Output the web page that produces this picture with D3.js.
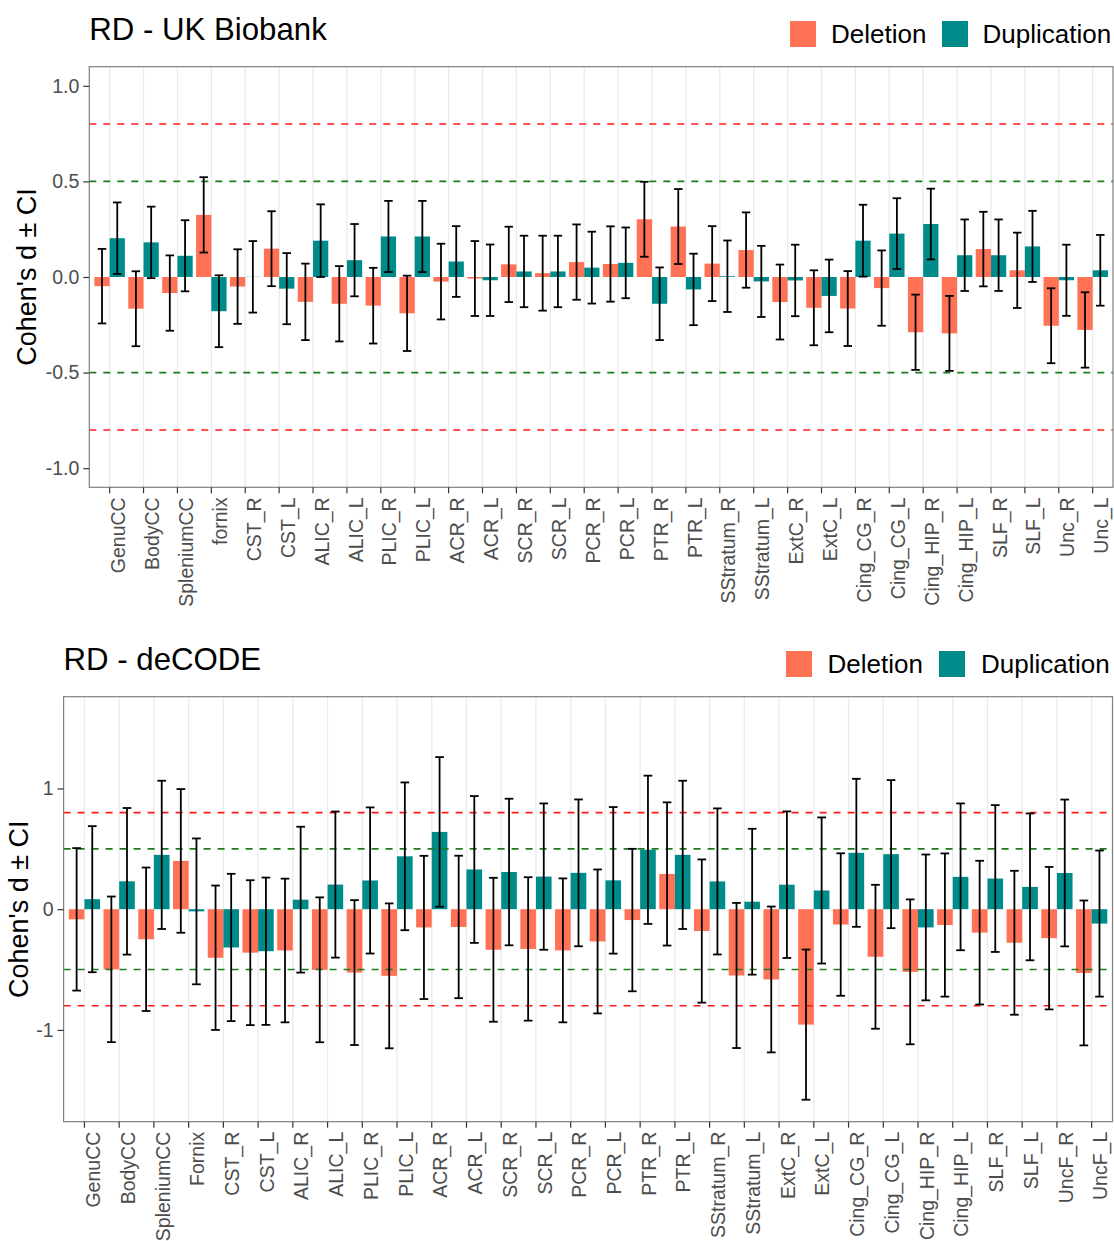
<!DOCTYPE html>
<html>
<head>
<meta charset="utf-8">
<script src="https://cdn.jsdelivr.net/npm/d3@7"></script>
<style>
  body { margin: 0; background: #fff; }
  svg text { font-family: "Liberation Sans", Arial, Helvetica, sans-serif; }
</style>
</head>
<body>
<div class="container"></div>
<script>
const WIDTH = 1114;
const HEIGHT = 1241;

const DEL_COLOR = '#FF7256';
const DUP_COLOR = '#008B8B';

// UK Biobank
var tractsUKB = ['GenuCC', 'BodyCC', 'SpleniumCC', 'fornix', 'CST_R', 'CST_L', 'ALIC_R', 'ALIC_L',
    'PLIC_R', 'PLIC_L', 'ACR_R', 'ACR_L', 'SCR_R', 'SCR_L', 'PCR_R', 'PCR_L', 'PTR_R', 'PTR_L',
    'SStratum_R', 'SStratum_L', 'ExtC_R', 'ExtC_L', 'Cing_CG_R', 'Cing_CG_L', 'Cing_HIP_R',
    'Cing_HIP_L', 'SLF_R', 'SLF_L', 'Unc_R', 'Unc_L'];
var ukbDel = [-0.048, -0.166, -0.084, 0.325, -0.050, 0.148, -0.130, -0.140, -0.150, -0.190,
    -0.024, -0.008, 0.066, 0.020, 0.078, 0.068, 0.302, 0.264, 0.070, 0.141,
    -0.131, -0.161, -0.165, -0.058, -0.289, -0.295, 0.146, 0.035, -0.255, -0.277];
var ukbDelCI = [0.195, 0.196, 0.197, 0.197, 0.195, 0.196, 0.200, 0.197, 0.198, 0.197,
    0.198, 0.196, 0.197, 0.196, 0.197, 0.197, 0.196, 0.196, 0.196, 0.197,
    0.196, 0.196, 0.196, 0.197, 0.197, 0.196, 0.195, 0.197, 0.196, 0.197];
var ukbDup = [0.203, 0.181, 0.111, -0.179, 0.001, -0.061, 0.190, 0.088, 0.212, 0.212,
    0.081, -0.017, 0.029, 0.029, 0.049, 0.074, -0.140, -0.065, 0.004, -0.023,
    -0.018, -0.099, 0.190, 0.227, 0.277, 0.114, 0.114, 0.160, -0.017, 0.035];
var ukbDupCI = [0.187, 0.187, 0.186, 0.188, 0.187, 0.186, 0.190, 0.189, 0.186, 0.186,
    0.185, 0.187, 0.187, 0.187, 0.188, 0.185, 0.190, 0.187, 0.187, 0.186,
    0.187, 0.190, 0.188, 0.185, 0.185, 0.187, 0.187, 0.186, 0.186, 0.185];

// deCODE
var tractsDC = ['GenuCC', 'BodyCC', 'SpleniumCC', 'Fornix', 'CST_R', 'CST_L', 'ALIC_R', 'ALIC_L',
    'PLIC_R', 'PLIC_L', 'ACR_R', 'ACR_L', 'SCR_R', 'SCR_L', 'PCR_R', 'PCR_L', 'PTR_R', 'PTR_L',
    'SStratum_R', 'SStratum_L', 'ExtC_R', 'ExtC_L', 'Cing_CG_R', 'Cing_CG_L', 'Cing_HIP_R',
    'Cing_HIP_L', 'SLF_R', 'SLF_L', 'UncF_R', 'UncF_L'];
var dcDel = [-0.084, -0.498, -0.249, 0.400, -0.402, -0.360, -0.342, -0.502, -0.525, -0.552,
    -0.151, -0.147, -0.336, -0.329, -0.341, -0.267, -0.090, 0.292, -0.181, -0.549,
    -0.582, -0.956, -0.127, -0.394, -0.519, -0.131, -0.194, -0.278, -0.240, -0.528];
var dcDelCI = [0.590, 0.603, 0.594, 0.595, 0.598, 0.600, 0.595, 0.600, 0.600, 0.600,
    0.593, 0.590, 0.596, 0.594, 0.596, 0.596, 0.590, 0.593, 0.593, 0.601,
    0.604, 0.622, 0.590, 0.596, 0.600, 0.593, 0.595, 0.596, 0.590, 0.600];
var dcDup = [0.083, 0.231, 0.450, -0.018, -0.317, -0.348, 0.079, 0.204, 0.238, 0.438,
    0.640, 0.329, 0.308, 0.270, 0.301, 0.239, 0.492, 0.450, 0.230, 0.062,
    0.203, 0.155, 0.467, 0.456, -0.151, 0.268, 0.254, 0.185, 0.300, -0.119];
var dcDupCI = [0.605, 0.607, 0.614, 0.604, 0.610, 0.610, 0.604, 0.605, 0.605, 0.612,
    0.620, 0.608, 0.607, 0.606, 0.608, 0.607, 0.614, 0.614, 0.605, 0.604,
    0.607, 0.605, 0.613, 0.613, 0.604, 0.608, 0.608, 0.608, 0.608, 0.605];

var groups = ['Deletion', 'Duplication'];
var refLines = [
    { v: 0.8, c: '#FF1A1A' }, { v: -0.8, c: '#FF1A1A' },
    { v: 0.5, c: '#1E7B1E' }, { v: -0.5, c: '#1E7B1E' }
];

var translate = function(x, y) {
    return `translate(${x},${y})`;
};

var buildRows = function(tracts, del, delCI, dup, dupCI) {
    var rows = [];
    tracts.forEach((t, i) => {
        rows.push({ tract: t, group: 'Deletion', d: del[i], ci: delCI[i] });
        rows.push({ tract: t, group: 'Duplication', d: dup[i], ci: dupCI[i] });
    });
    return rows;
};

var drawPanel = function(svg, p) {
    var w = p.right - p.left;
    var h = p.bottom - p.top;

    var x = d3.scaleBand()
        .domain(p.tracts)
        .range([0, w])
        .paddingInner(0.1)
        .paddingOuter(0.15);
    var xg = d3.scaleBand()
        .domain(groups)
        .range([0, x.bandwidth()]);
    var y = d3.scaleLinear()
        .domain(p.domain)
        .range([h, 0]);
    var color = d3.scaleOrdinal().domain(groups).range([DEL_COLOR, DUP_COLOR]);

    var g = svg.append('g').attr('transform', translate(p.left, p.top));

    // vertical grid
    g.selectAll('.grid')
        .data(p.tracts)
        .join('line')
        .attr('x1', d => x(d) + x.bandwidth() / 2)
        .attr('x2', d => x(d) + x.bandwidth() / 2)
        .attr('y1', 0)
        .attr('y2', h)
        .attr('stroke', '#EBEBEB')
        .attr('stroke-width', 1.3);

    var rows = p.rows;

    g.selectAll('.bar')
        .data(rows)
        .join('rect')
        .attr('x', d => x(d.tract) + xg(d.group))
        .attr('width', xg.bandwidth())
        .attr('y', d => y(Math.max(0, d.d)))
        .attr('height', d => Math.abs(y(d.d) - y(0)))
        .attr('fill', d => color(d.group));

    g.selectAll('.ref')
        .data(refLines)
        .join('line')
        .attr('x1', 0)
        .attr('x2', w)
        .attr('y1', d => y(d.v))
        .attr('y2', d => y(d.v))
        .attr('stroke', d => d.c)
        .attr('stroke-width', 1.6)
        .attr('stroke-dasharray', '7,7');

    var cap = x.step() * 0.125;
    var eb = g.selectAll('.eb')
        .data(rows)
        .join('g')
        .attr('transform', d => translate(x(d.tract) + xg(d.group) + xg.bandwidth() / 2, 0))
        .attr('stroke', '#000')
        .attr('stroke-width', 1.8);
    eb.append('line')
        .attr('y1', d => y(d.d + d.ci))
        .attr('y2', d => y(d.d - d.ci));
    eb.append('line')
        .attr('x1', -cap).attr('x2', cap)
        .attr('y1', d => y(d.d + d.ci))
        .attr('y2', d => y(d.d + d.ci));
    eb.append('line')
        .attr('x1', -cap).attr('x2', cap)
        .attr('y1', d => y(d.d - d.ci))
        .attr('y2', d => y(d.d - d.ci));

    // panel border
    g.append('rect')
        .attr('width', w)
        .attr('height', h)
        .attr('fill', 'none')
        .attr('stroke', '#7F7F7F')
        .attr('stroke-width', 1.2);

    var yAxis = d3.axisLeft(y).tickValues(p.ticks).tickFormat(p.fmt).tickSize(6).tickPadding(4);
    var ya = g.append('g').call(yAxis);
    ya.select('.domain').remove();
    ya.selectAll('line').attr('stroke', '#333').attr('stroke-width', 1.2);
    ya.selectAll('text').attr('fill', '#4D4D4D').style('font-size', '19.5px');

    var xAxis = d3.axisBottom(x).tickSize(6).tickPadding(4);
    var xa = g.append('g').attr('transform', translate(0, h)).call(xAxis);
    xa.select('.domain').remove();
    xa.selectAll('line').attr('stroke', '#333').attr('stroke-width', 1.2);
    xa.selectAll('text')
        .attr('fill', '#4D4D4D')
        .style('font-size', '19.5px')
        .attr('text-anchor', 'end')
        .attr('transform', 'translate(0,10) rotate(-90)')
        .attr('x', 0)
        .attr('y', 0)
        .attr('dy', '0.8em');

    // titles
    svg.append('text')
        .attr('x', p.left)
        .attr('y', p.titleY)
        .style('font-size', '31.2px')
        .attr('fill', '#000')
        .text(p.title);

    svg.append('text')
        .attr('transform', translate(p.yTitleX, p.top + h / 2) + ' rotate(-90)')
        .attr('text-anchor', 'middle')
        .style('font-size', '27px')
        .attr('fill', '#000')
        .text("Cohen's d \u00B1 CI");

    // legend
    var lg = svg.append('g');
    groups.forEach((grp, i) => {
        lg.append('rect')
            .attr('x', p.legend[i].key)
            .attr('y', p.legendY)
            .attr('width', 26)
            .attr('height', 26)
            .attr('fill', color(grp));
        lg.append('text')
            .attr('x', p.legend[i].text)
            .attr('y', p.legendY + 22)
            .style('font-size', '26px')
            .attr('fill', '#000')
            .text(grp);
    });
};

var fillLayout = function() {
    var svg = d3.select('.container').append('svg')
        .attr('width', WIDTH)
        .attr('height', HEIGHT);

    svg.append('rect').attr('width', WIDTH).attr('height', HEIGHT).attr('fill', '#fff');

    drawPanel(svg, {
        tracts: tractsUKB,
        rows: buildRows(tractsUKB, ukbDel, ukbDelCI, ukbDup, ukbDupCI),
        left: 89.3, top: 66.7, right: 1113, bottom: 487.3,
        domain: [-1.1, 1.1],
        ticks: [-1, -0.5, 0, 0.5, 1],
        fmt: d => d.toFixed(1),
        title: 'RD - UK Biobank', titleY: 40,
        yTitleX: 36,
        legendY: 21,
        legend: [{ key: 790, text: 831 }, { key: 942, text: 982.5 }]
    });

    drawPanel(svg, {
        tracts: tractsDC,
        rows: buildRows(tractsDC, dcDel, dcDelCI, dcDup, dcDupCI),
        left: 63.6, top: 696.7, right: 1112.5, bottom: 1121.7,
        domain: [-1.76, 1.76],
        ticks: [-1, 0, 1],
        fmt: d => d.toFixed(0),
        title: 'RD - deCODE', titleY: 670,
        yTitleX: 28,
        legendY: 651,
        legend: [{ key: 786, text: 827.5 }, { key: 939, text: 981 }]
    });
};
window.onload = fillLayout;
</script>
</body>
</html>
